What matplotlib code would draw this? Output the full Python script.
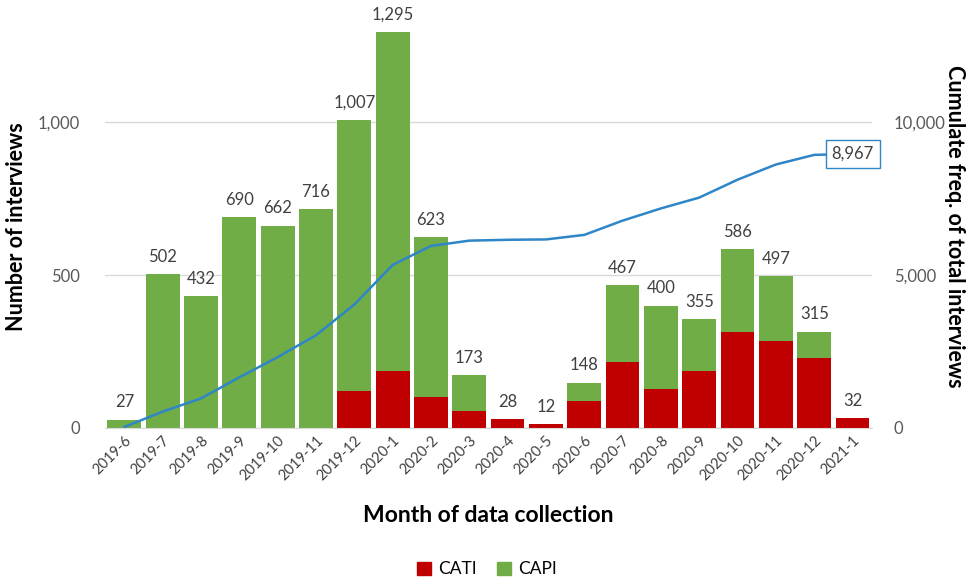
import numpy as np
import matplotlib.pyplot as plt
from matplotlib.patches import Patch

plt.rcParams['font.family'] = ['Lato', 'DejaVu Sans']

# 월별 인터뷰 건수 (CATI / CAPI)
months = ['2019-6', '2019-7', '2019-8', '2019-9', '2019-10', '2019-11', '2019-12',
          '2020-1', '2020-2', '2020-3', '2020-4', '2020-5', '2020-6', '2020-7',
          '2020-8', '2020-9', '2020-10', '2020-11', '2020-12', '2021-1']
total = [27, 502, 432, 690, 662, 716, 1007, 1295, 623, 173, 28, 12, 148, 467,
         400, 355, 586, 497, 315, 32]
cati = [0, 0, 0, 0, 0, 0, 119, 186, 100, 54, 28, 12, 87, 217, 127, 187, 315,
        284, 230, 32]

total = np.array(total)
cati = np.array(cati)
capi = total - cati
cum = np.cumsum(total)

red = '#C00000'
green = '#70AD47'
blue = '#2E86C8'
grey = '#595959'

fig = plt.figure(figsize=(9.74, 5.86), dpi=100)
ax = fig.add_axes([0.108, 0.27, 0.787, 0.688])
x = np.arange(len(months))

ax.bar(x, cati, width=0.88, color=red, zorder=2)
ax.bar(x, capi, width=0.88, bottom=cati, color=green, zorder=2)

# 막대 위 합계 라벨
for i, v in enumerate(total):
    ax.text(i, v + 30, f'{v:,}', ha='center', va='bottom', fontsize=12, color='#404040')

ax.set_xlim(-0.5, len(months) - 0.5)
ax.set_ylim(0, 1320)
ax.set_yticks([0, 500, 1000])
ax.set_yticklabels(['0', '500', '1,000'])
ax.yaxis.grid(True, color='#D9D9D9', lw=1, zorder=0)
ax.set_axisbelow(True)
for s in ['top', 'right', 'left']:
    ax.spines[s].set_visible(False)
ax.spines['bottom'].set_color('#D9D9D9')
ax.tick_params(axis='y', length=0, pad=18, labelsize=12, labelcolor=grey)
ax.tick_params(axis='x', length=0, pad=4, labelsize=10.5, labelcolor='#404040')
ax.set_xticks(x)
ax.set_xticklabels(months, rotation=45, ha='right', rotation_mode='anchor')
ax.set_ylabel('Number of interviews', fontsize=15.5, fontweight='bold', labelpad=8)
ax.set_xlabel('Month of data collection', fontsize=16.5, fontweight='bold', labelpad=16)

# 누적 인터뷰 수 (오른쪽 축)
ax2 = ax.twinx()
ax2.plot(x, cum, color=blue, lw=1.8, zorder=3)
ax2.set_ylim(0, 13200)
ax2.set_yticks([0, 5000, 10000])
ax2.set_yticklabels(['0', '5,000', '10,000'])
for s in ['top', 'right', 'left', 'bottom']:
    ax2.spines[s].set_visible(False)
ax2.tick_params(axis='y', length=0, pad=16, labelsize=12, labelcolor=grey)
ax2.set_ylabel('Cumulate freq. of total interviews', fontsize=15.5, fontweight='bold',
               rotation=270, labelpad=14)
ax2.text(x[-1], cum[-1], f'{cum[-1]:,}', ha='center', va='center', fontsize=12,
         color='#404040', zorder=5,
         bbox=dict(boxstyle='square,pad=0.35', fc='white', ec=blue, lw=1))

handles = [Patch(color=red, label='CATI'), Patch(color=green, label='CAPI')]
fig.legend(handles=handles, loc='lower center', bbox_to_anchor=(0.5, -0.012), ncol=2,
           frameon=False, fontsize=12.5, handlelength=0.8, handleheight=0.8,
           handletextpad=0.4, columnspacing=1.2)

fig.savefig('out.png', dpi=100)
